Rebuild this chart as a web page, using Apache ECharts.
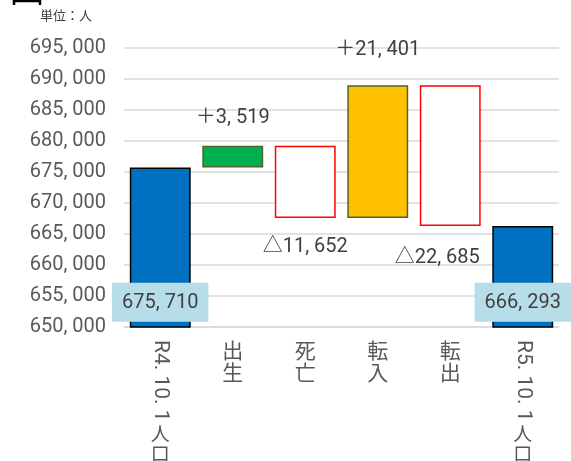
<!DOCTYPE html>
<html><head><meta charset="utf-8">
<script src="https://cdn.jsdelivr.net/npm/echarts@6/dist/echarts.min.js"></script>
<style>html,body{margin:0;padding:0;background:#fff}#c{width:571px;height:461px}</style>
</head><body><div id="c"></div>
<script>
const categories = ['R4.10.1人口', '出生', '死亡', '転入', '転出', 'R5.10.1人口'];
const changes = [675710, 3519, -11652, 21401, -22685, 666293];
const isTotal = [true, false, false, false, false, true];
const yTicks = [650000, 655000, 660000, 665000, 670000, 675000, 680000, 685000, 690000, 695000];

const FONT = "Roboto, 'Noto Sans CJK JP', sans-serif";
const NUMSIZE = 20;
const fmt = v => Math.abs(v).toLocaleString('en-US').replace(/,/g, ', ');

// build waterfall stacks
const base = [], height = [];
let running = 0;
changes.forEach((c, i) => {
  if (isTotal[i]) { base.push(0); height.push(c); running = c; }
  else {
    const next = running + c;
    base.push(Math.min(running, next));
    height.push(Math.abs(c));
    running = next;
  }
});

const styles = [
  {color: '#0070C0', borderColor: '#000000', borderWidth: 1.5},
  {color: '#00B050', borderColor: '#4F6228', borderWidth: 1.5},
  {color: '#FFFFFF', borderColor: '#FF0000', borderWidth: 1.5},
  {color: '#FFC000', borderColor: '#4F6228', borderWidth: 1.5},
  {color: '#FFFFFF', borderColor: '#FF0000', borderWidth: 1.5},
  {color: '#0070C0', borderColor: '#000000', borderWidth: 1.5}
];
const totalLabel = {show: true, position: 'insideBottom', distance: 6, backgroundColor: '#B7DEE8', padding: [10, 10, 9, 10], color: '#404040', fontSize: NUMSIZE, lineHeight: 20};
const labelCfg = [
  totalLabel,
  {show: true, position: 'top', distance: 18, color: '#404040', fontSize: NUMSIZE},
  {show: true, position: 'bottom', distance: 19, color: '#404040', fontSize: NUMSIZE},
  {show: true, position: 'top', distance: 25, color: '#404040', fontSize: NUMSIZE},
  {show: true, position: 'bottom', distance: 22, offset: [-13, 0], color: '#404040', fontSize: NUMSIZE},
  totalLabel
];

const data = height.map((h, i) => ({
  value: h,
  itemStyle: styles[i],
  label: Object.assign({fontFamily: FONT, formatter: () => isTotal[i] ? fmt(changes[i]) : (changes[i] > 0 ? '＋' : '△') + fmt(changes[i])}, labelCfg[i])
}));

const chart = echarts.init(document.getElementById('c'), null, {renderer: 'canvas'});
const option = {
  animation: false,
  backgroundColor: '#fff',
  grid: {left: 124, right: 12, top: 48, bottom: 134, containLabel: false},
  xAxis: {
    type: 'category', data: categories,
    axisLine: {lineStyle: {color: '#D9D9D9', width: 1.5}},
    axisTick: {show: false},
    axisLabel: {
      margin: 12, color: '#595959', fontSize: 21, lineHeight: 22, fontFamily: "'Noto Sans CJK JP', sans-serif",
      formatter: v => v.startsWith('R') ? '' : v.split('').join('\n')
    }
  },
  yAxis: {
    type: 'value', min: 650000, max: 695000, interval: 5000,
    axisLine: {show: false}, axisTick: {show: false},
    splitLine: {lineStyle: {color: '#D9D9D9', width: 1.5}},
    axisLabel: {margin: 18, color: '#595959', fontSize: NUMSIZE, fontFamily: FONT, formatter: v => fmt(v)}
  },
  series: [
    {type: 'bar', stack: 'w', data: base, itemStyle: {color: 'transparent'}, barWidth: '84%', silent: true},
    {type: 'bar', stack: 'w', data: data, barWidth: '84%', z: 3}
  ]
};
chart.setOption(option);

// vertical-writing category labels for the totals (latin sideways, CJK upright)
const graphics = [
  {type: 'text', left: 40, top: 9, style: {text: '単位：人', fontSize: 13, fill: '#404040', fontFamily: "'Noto Sans CJK JP', sans-serif"}},
  {type: 'polyline', shape: {points: [[14, 5], [14, 1], [40, 1], [40, 5]]}, style: {stroke: '#000', lineWidth: 2.5, fill: null}}
];
categories.forEach((c, i) => {
  if (!c.startsWith('R')) return;
  const x = chart.convertToPixel({xAxisIndex: 0}, i);
  const latin = c.replace('人口', '').replace(/\./g, '. ').trim();
  graphics.push({type: 'text', x: x, y: 340, rotation: -Math.PI / 2,
    style: {text: latin, fontSize: 21, fill: '#595959', fontFamily: FONT, align: 'left', verticalAlign: 'middle'}});
  graphics.push({type: 'text', x: x, y: 424,
    style: {text: '人\n口', fontSize: 19, lineHeight: 20, fill: '#595959', fontFamily: "'Noto Sans CJK JP', sans-serif", align: 'center', verticalAlign: 'top'}});
});
chart.setOption({graphic: graphics});
</script></body></html>
